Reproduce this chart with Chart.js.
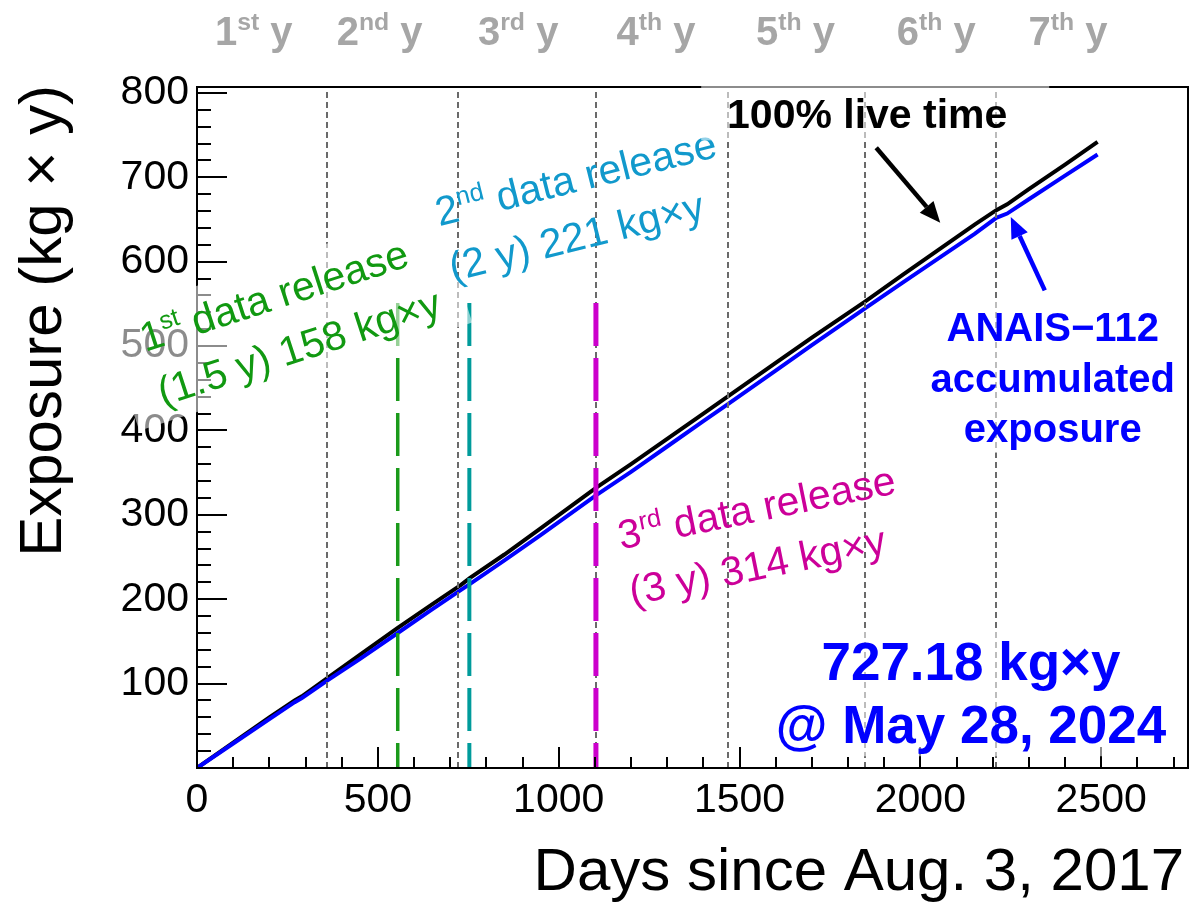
<!DOCTYPE html>
<html lang="en">
<head>
<meta charset="UTF-8">
<title>ANAIS-112 accumulated exposure</title>
<script src="https://cdn.jsdelivr.net/npm/chart.js"></script>
<style>
    html, body {
        margin: 0;
        padding: 0;
        background: white;
    }
    #wrap {
        width: 1190px;
        height: 903px;
    }
</style>
</head>
<body>
<div id="wrap"><canvas id="exposureChart" width="1190" height="903"></canvas></div>

<script>
// exposure curves (days since Aug. 3, 2017 -> kg x y)
const days        = [0, 100, 200, 270, 290, 365, 450, 555, 650, 730, 754, 850, 950, 1103, 1200, 1300, 1400, 1467, 1600, 1700, 1848, 1950, 2050, 2150, 2210, 2240, 2300, 2400, 2490];
const liveTime    = [0, 30, 60, 80, 85, 108, 134, 166, 194, 217, 225, 253, 284, 332, 360, 390, 420, 440, 480, 510, 553, 584, 614, 644, 661, 668, 686, 715, 742];
const accumulated = [0, 29, 58, 78, 83, 105, 129, 160, 188, 211, 218, 246, 276, 323, 351, 381, 411, 431, 471, 501, 545, 575, 604, 633, 652, 657, 674, 702, 727];

const xTicks = [0, 500, 1000, 1500, 2000, 2500];
const yTicks = [100, 200, 300, 400, 500, 600, 700, 800];

// year boundaries and the year labels above the frame
const yearBoundaries = [360, 723, 1103, 1467, 1848, 2210];
const yearNumbers    = ['1', '2', '3', '4', '5', '6', '7'];
const yearSuffixes   = ['st', 'nd', 'rd', 'th', 'th', 'th', 'th'];
const yearLabelDays  = [157, 505, 888, 1269, 1655, 2044, 2408];

// data releases: day of the cut and exposure quoted
const releaseDays     = [555, 753, 1103];
const releaseExposure = [158, 221, 314];
const releaseYears    = ['1.5', '2', '3'];
const releaseTop      = 551;

const finalExposure = 727.18;
const finalDate     = 'May 28, 2024';

const FONT = "'Liberation Sans', Arial, Helvetica, sans-serif";

function px(chart, d, v) {
    return [chart.scales.x.getPixelForValue(d), chart.scales.y.getPixelForValue(v)];
}

function richWidth(ctx, parts, size, bold) {
    let w = 0;
    for (const [t, sup] of parts) {
        ctx.font = (bold ? 'bold ' : '') + (sup ? size * 0.62 : size) + 'px ' + FONT;
        w += ctx.measureText(t).width;
    }
    return w;
}

function drawRich(ctx, parts, x, y, size, bold) {
    let cx = x;
    for (const [t, sup] of parts) {
        ctx.font = (bold ? 'bold ' : '') + (sup ? size * 0.62 : size) + 'px ' + FONT;
        ctx.fillText(t, cx, sup ? y - size * 0.38 : y);
        cx += ctx.measureText(t).width;
    }
}

// rotated multi-line note, optional half transparent white box behind it
function note(ctx, lines, x, y, angle, color, size, lh, box) {
    ctx.save();
    ctx.translate(x, y);
    ctx.rotate(-angle * Math.PI / 180);
    ctx.textAlign = 'left';
    ctx.textBaseline = 'alphabetic';
    if (box) {
        const w = Math.max(...lines.map(l => richWidth(ctx, l, size, false)));
        ctx.fillStyle = 'rgba(255,255,255,0.55)';
        ctx.fillRect(-box[0], -size * 0.95 - box[1],
            w + box[0] + box[2], size * 0.95 + (lines.length - 1) * lh + size * 0.22 + box[1] + box[3]);
    }
    ctx.fillStyle = color;
    lines.forEach((l, i) => drawRich(ctx, l, 0, i * lh, size, false));
    ctx.restore();
}

function arrow(ctx, x0, y0, x1, y1, color) {
    const a = Math.atan2(y1 - y0, x1 - x0);
    const hl = 21, hw = 9;
    const bx = x1 - hl * Math.cos(a), by = y1 - hl * Math.sin(a);
    ctx.save();
    ctx.strokeStyle = color;
    ctx.fillStyle = color;
    ctx.lineWidth = 4.5;
    ctx.beginPath();
    ctx.moveTo(x0, y0);
    ctx.lineTo(bx, by);
    ctx.stroke();
    ctx.beginPath();
    ctx.moveTo(x1, y1);
    ctx.lineTo(bx + hw * Math.sin(a), by - hw * Math.cos(a));
    ctx.lineTo(bx - hw * Math.sin(a), by + hw * Math.cos(a));
    ctx.closePath();
    ctx.fill();
    ctx.restore();
}

function fadeBox(ctx, x0, y0, x1, y1) {
    ctx.fillStyle = 'rgba(255,255,255,0.55)';
    ctx.fillRect(x0, y0, x1 - x0, y1 - y0);
}

const framePlugin = {
    id: 'framePlugin',
    afterDatasetsDraw(chart) {
        const ctx = chart.ctx;
        const xs = chart.scales.x, ys = chart.scales.y;
        const area = chart.chartArea;

        // year boundaries
        ctx.save();
        ctx.strokeStyle = '#6a6a6a';
        ctx.lineWidth = 2;
        ctx.setLineDash([6, 4]);
        yearBoundaries.forEach(d => {
            const x = Math.round(xs.getPixelForValue(d));
            ctx.beginPath();
            ctx.moveTo(x, area.bottom);
            ctx.lineTo(x, area.top);
            ctx.stroke();
        });
        ctx.restore();

        // data release cuts
        const relStyle = [['#1a9a1a', 3.5], ['#009b9b', 4], ['#cc00cc', 5]];
        releaseDays.forEach((d, i) => {
            const x = xs.getPixelForValue(d);
            ctx.save();
            ctx.strokeStyle = relStyle[i][0];
            ctx.lineWidth = relStyle[i][1];
            ctx.setLineDash([43, 12]);
            ctx.beginPath();
            ctx.moveTo(x, ys.getPixelForValue(releaseTop));
            ctx.lineTo(x, area.bottom);
            ctx.stroke();
            ctx.restore();
        });

        // inward ticks, bottom and left only
        ctx.save();
        ctx.strokeStyle = '#000';
        ctx.lineWidth = 2;
        ctx.beginPath();
        for (let d = 0; d <= xs.max; d += 100) {
            const x = Math.round(xs.getPixelForValue(d));
            const len = d % 500 === 0 ? 21 : 11;
            ctx.moveTo(x, area.bottom);
            ctx.lineTo(x, area.bottom - len);
        }
        for (let v = 0; v <= ys.max; v += 20) {
            const y = Math.round(ys.getPixelForValue(v));
            const len = v % 100 === 0 ? 30 : 14;
            ctx.moveTo(area.left, y);
            ctx.lineTo(area.left + len, y);
        }
        ctx.stroke();
        ctx.strokeRect(area.left, area.top, area.right - area.left, area.bottom - area.top);
        ctx.restore();
    },
    afterDraw(chart) {
        const ctx = chart.ctx;
        const area = chart.chartArea;
        ctx.save();

        // axis titles
        ctx.fillStyle = '#000';
        ctx.font = '60px ' + FONT;
        ctx.textAlign = 'right';
        ctx.textBaseline = 'alphabetic';
        ctx.fillText('Days since Aug. 3, 2017', 1184, 890);
        ctx.save();
        ctx.translate(61, area.top - 2);
        ctx.rotate(-Math.PI / 2);
        ctx.font = '60px ' + FONT;
        ctx.fillText('Exposure (kg \u00d7 y)', 0, 0);
        ctx.restore();

        // year labels over the frame
        ctx.fillStyle = '#a6a6a6';
        ctx.textAlign = 'left';
        yearNumbers.forEach((n, i) => {
            const parts = [[n, 0], [yearSuffixes[i], 1], [' y', 0]];
            const w = richWidth(ctx, parts, 40, true);
            const x = chart.scales.x.getPixelForValue(yearLabelDays[i]);
            drawRich(ctx, parts, x - w / 2, 45, 40, true);
        });

        // release notes
        const relNotes = [
            { at: [-143, 493], angle: 18,   color: '#119911', box: [30, 8, 25, 7] },
            { at: [670, 642],  angle: 14,   color: '#1199cc', box: null },
            { at: [1172, 259], angle: 11.5, color: '#cc0099', box: null }
        ];
        const sups = ['st', 'nd', 'rd'];
        relNotes.forEach((n, i) => {
            const [x, y] = px(chart, n.at[0], n.at[1]);
            const lines = [
                [[String(i + 1), 0], [sups[i], 1], [' data release', 0]],
                [['(' + releaseYears[i] + ' y) ' + releaseExposure[i] + ' kg\u00d7y', 0]]
            ];
            note(ctx, lines, x, y, n.angle, n.color, 41, 57, n.box);
        });

        // curve labels
        ctx.textAlign = 'center';
        ctx.textBaseline = 'alphabetic';
        const [lx, ly] = px(chart, 1853, 758);
        fadeBox(ctx, lx - 166, ly - 48, lx + 182, ly + 12);
        ctx.fillStyle = '#000';
        ctx.font = 'bold 41px ' + FONT;
        ctx.fillText('100% live time', lx, ly);

        const [ax, ay] = px(chart, 2366, 506);
        fadeBox(ctx, ax - 130, ay - 40, ax + 130, ay + 112);
        ctx.fillStyle = '#0000ff';
        ctx.font = 'bold 40px ' + FONT;
        ['ANAIS\u2212112', 'accumulated', 'exposure'].forEach((t, i) => ctx.fillText(t, ax, ay + i * 50.5));

        const [fx, fy] = px(chart, 2140, 104);
        fadeBox(ctx, fx - 197, fy - 50, fx + 197, fy + 76);
        ctx.fillStyle = '#0000ff';
        ctx.font = 'bold 53px ' + FONT;
        ctx.fillText(finalExposure.toFixed(2) + ' kg\u00d7y', fx, fy);
        ctx.fillText('@ ' + finalDate, fx, fy + 63);

        // arrows
        let p0 = px(chart, 1878, 735), p1 = px(chart, 2055, 646);
        arrow(ctx, p0[0], p0[1], p1[0], p1[1], '#000');
        p0 = px(chart, 2344, 566); p1 = px(chart, 2250, 653);
        arrow(ctx, p0[0], p0[1], p1[0], p1[1], '#0000ff');

        ctx.restore();
    }
};

const ctx = document.getElementById('exposureChart').getContext('2d');
new Chart(ctx, {
    type: 'line',
    data: {
        datasets: [
            {
                label: 'ANAIS-112 accumulated exposure',
                data: days.map((d, i) => ({ x: d, y: accumulated[i] })),
                borderColor: '#0000ff',
                borderWidth: 4,
                pointRadius: 0,
                tension: 0
            },
            {
                label: '100% live time',
                data: days.map((d, i) => ({ x: d, y: liveTime[i] })),
                borderColor: '#000000',
                borderWidth: 4,
                pointRadius: 0,
                tension: 0
            }
        ]
    },
    options: {
        responsive: false,
        animation: false,
        devicePixelRatio: 1,
        layout: { padding: { top: 87, right: 2, left: 0, bottom: 0 } },
        plugins: {
            legend: { display: false },
            tooltip: { enabled: false }
        },
        scales: {
            x: {
                type: 'linear',
                min: 0,
                max: 2740,
                grid: { display: false, drawTicks: false },
                border: { display: false },
                afterBuildTicks: s => { s.ticks = xTicks.map(v => ({ value: v })); },
                afterFit: s => { s.height = 135; },
                ticks: {
                    color: '#000',
                    padding: 8,
                    maxRotation: 0,
                    autoSkip: false,
                    callback: v => String(v),
                    font: { family: FONT, size: 41 }
                }
            },
            y: {
                type: 'linear',
                min: 0,
                max: 807,
                grid: { display: false, drawTicks: false },
                border: { display: false },
                afterBuildTicks: s => { s.ticks = yTicks.map(v => ({ value: v })); },
                afterFit: s => { s.width = 197; },
                ticks: {
                    color: '#000',
                    padding: 8,
                    autoSkip: false,
                    callback: v => String(v),
                    font: { family: FONT, size: 41 }
                }
            }
        }
    },
    plugins: [framePlugin]
});
</script>
</body>
</html>
